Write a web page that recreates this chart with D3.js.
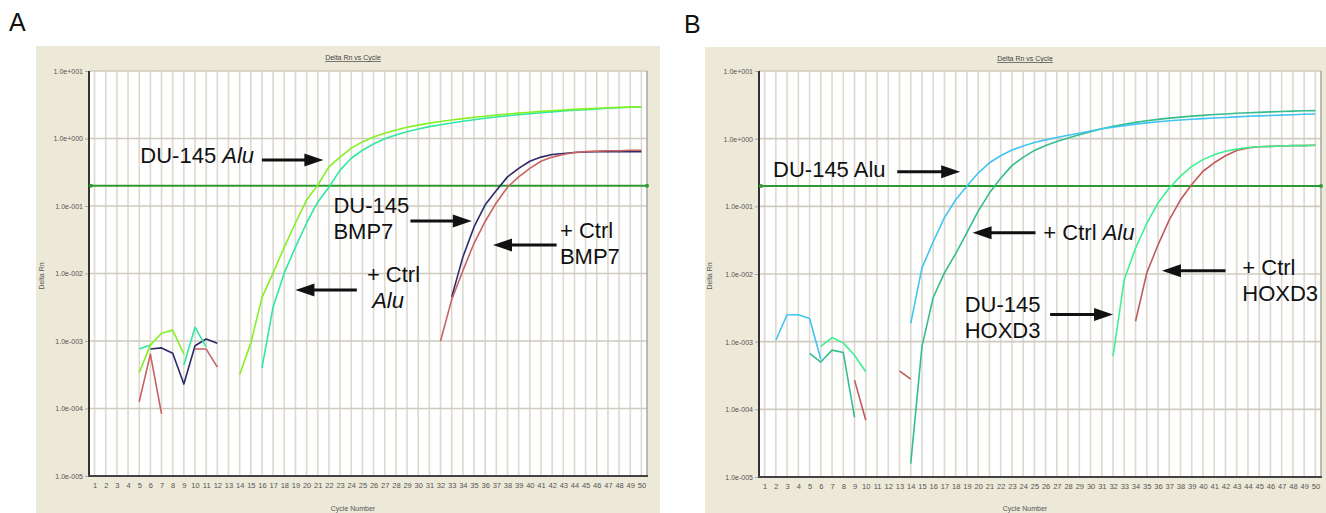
<!DOCTYPE html>
<html>
<head>
<meta charset="utf-8">
<script src="https://cdn.jsdelivr.net/npm/d3@7"></script>
<style>
  body { margin: 0; background: #fff; }
  svg { display: block; font-family: "Liberation Sans", Arial, sans-serif; }
</style>
</head>
<body>
<svg id="chart" width="1326" height="513"></svg>
<script>
// ---- data ----
var cycles = d3.range(1, 51);
var decades = [1e1, 1e0, 1e-1, 1e-2, 1e-3, 1e-4, 1e-5];
var decadeLabels = ["1.0e+001", "1.0e+000", "1.0e-001", "1.0e-002", "1.0e-003", "1.0e-004", "1.0e-005"];
var threshold = 0.2;

var _ = null;
// panel A
var aDuAlu = [_,_,_,_,3.4e-4,8.7e-4,1.3e-3,1.45e-3,6.4e-4,_,
  _,_,_,3.2e-4,9.3e-4,4.4e-3,0.0102,0.0246,0.056,0.123,
  0.205,0.38,0.53,0.72,0.89,1.05,1.2,1.34,1.47,1.58,
  1.69,1.79,1.88,1.97,2.06,2.14,2.22,2.3,2.38,2.45,
  2.52,2.58,2.64,2.7,2.75,2.8,2.85,2.89,2.92,2.95];
var aCtrlAlu = [_,_,_,_,7.6e-4,8.7e-4,_,_,4.4e-4,1.6e-3,
  8.1e-4,_,_,_,_,4.0e-4,3.2e-3,0.0102,0.0246,0.056,
  0.115,0.19,0.34,0.51,0.67,0.83,0.99,1.13,1.26,1.38,
  1.5,1.6,1.7,1.8,1.9,1.99,2.08,2.17,2.25,2.33,
  2.41,2.48,2.55,2.62,2.68,2.74,2.8,2.85,2.9,2.93];
var aDuBmp7 = [_,_,_,_,_,7.6e-4,7.9e-4,6.6e-4,2.3e-4,8.5e-4,
  1.07e-3,9.3e-4,_,_,_,_,_,_,_,_,
  _,_,_,_,_,_,_,_,_,_,
  _,_,4.5e-3,0.0175,0.049,0.104,0.17,0.27,0.36,0.46,
  0.53,0.58,0.6,0.62,0.63,0.635,0.64,0.64,0.64,0.64];
var aCtrlBmp7 = [_,_,_,_,1.26e-4,6.4e-4,8.3e-5,_,_,7.6e-4,
  7.6e-4,4.1e-4,_,_,_,_,_,_,_,_,
  _,_,_,_,_,_,_,_,_,_,
  _,1.0e-3,4.1e-3,0.011,0.028,0.059,0.112,0.19,0.27,0.36,
  0.46,0.53,0.58,0.62,0.64,0.65,0.66,0.66,0.67,0.67];
// panel B
var bDuAlu = [_,1.05e-3,2.5e-3,2.5e-3,2.2e-3,5.5e-4,_,_,_,_,
  _,_,_,1.86e-3,0.0123,0.030,0.068,0.125,0.2,0.31,
  0.44,0.56,0.68,0.78,0.88,0.96,1.04,1.12,1.2,1.3,
  1.4,1.48,1.56,1.64,1.71,1.78,1.84,1.89,1.94,1.98,
  2.02,2.06,2.1,2.14,2.17,2.2,2.23,2.26,2.29,2.32];
var bCtrlAlu = [_,_,_,_,6.7e-4,5.0e-4,7.5e-4,6.9e-4,7.6e-5,_,
  _,_,_,1.58e-5,8.5e-4,4.5e-3,0.0104,0.020,0.041,0.085,
  0.157,0.26,0.40,0.53,0.67,0.79,0.91,1.02,1.14,1.27,
  1.4,1.52,1.63,1.74,1.84,1.93,2.01,2.08,2.15,2.21,
  2.27,2.32,2.37,2.41,2.45,2.49,2.52,2.55,2.58,2.6];
var bDuHoxd3 = [_,_,_,_,_,8.5e-4,1.15e-3,9.6e-4,6.3e-4,3.6e-4,
  _,_,_,_,_,_,_,_,_,_,
  _,_,_,_,_,_,_,_,_,_,
  _,6.1e-4,8.3e-3,0.024,0.056,0.112,0.187,0.28,0.39,0.49,
  0.58,0.65,0.70,0.74,0.76,0.77,0.78,0.79,0.79,0.8];
var bCtrlHoxd3 = [_,_,_,_,_,_,_,_,2.7e-4,6.9e-5,
  _,_,3.7e-4,2.8e-4,_,_,_,_,_,_,
  _,_,_,_,_,_,_,_,_,_,
  _,_,_,2.0e-3,0.0104,0.027,0.063,0.125,0.21,0.33,
  0.44,0.56,0.67,0.73,0.76,0.77,0.78,0.79,0.79,0.8];

// annotations, placed in data space (cycle, Delta Rn)
var aNotes = [
  { lines: [["DU-145 ", false], ["Alu", true]], c: 5.1, v: 0.434 },
  { lines: [["DU-145", false]], line2: [["BMP7", false]], c: 22.4, v: 0.0787 },
  { lines: [["+ Ctrl", false]], line2: [["BMP7", false]], c: 42.7, v: 0.0336 },
  { lines: [["+ Ctrl", false]], line2: [[" Alu", true]], c: 25.4, v: 0.00748 }
];
var aArrows = [
  { c0: 16.0, c1: 21.5, v: 0.48 },
  { c0: 29.3, c1: 34.8, v: 0.06 },
  { c0: 42.4, c1: 36.7, v: 0.0264 },
  { c0: 24.5, c1: 19.0, v: 0.0057 }
];
var bNotes = [
  { lines: [["DU-145 Alu", false]], c: 1.75, v: 0.273 },
  { lines: [["+ Ctrl ", false], ["Alu", true]], c: 25.8, v: 0.0322 },
  { lines: [["DU-145", false]], line2: [["HOXD3", false]], c: 18.8, v: 0.00279 },
  { lines: [["+ Ctrl", false]], line2: [["HOXD3", false]], c: 43.5, v: 0.0098 }
];
var bArrows = [
  { c0: 12.8, c1: 18.4, v: 0.324 },
  { c0: 25.1, c1: 19.5, v: 0.0408 },
  { c0: 26.4, c1: 32.0, v: 0.00252 },
  { c0: 42.0, c1: 36.35, v: 0.0112 }
];

var svg = d3.select('#chart');

function drawPanel(p) {
  var g = svg.append('g');

  // beige frame
  g.append('rect').attr('x', p.bx).attr('y', p.by).attr('width', p.bw).attr('height', p.bh)
    .attr('fill', '#ece9d8');
  g.append('rect').attr('x', p.left).attr('y', p.top)
    .attr('width', p.right - p.left).attr('height', p.bottom - p.top).attr('fill', '#fff');

  var x = d3.scaleLinear().domain([0.5, 50.5]).range([p.left, p.right]);
  var y = d3.scaleLog().domain([1e-5, 1e1]).range([p.bottom, p.top]);

  // grid
  g.append('g').selectAll('line').data(cycles).enter().append('line')
    .attr('x1', function(d) { return x(d); }).attr('x2', function(d) { return x(d); })
    .attr('y1', p.top).attr('y2', p.bottom)
    .attr('stroke', '#dcd9cf').attr('stroke-width', 1.6);
  g.append('g').selectAll('line').data(decades).enter().append('line')
    .attr('x1', p.left).attr('x2', p.right)
    .attr('y1', function(d) { return y(d); }).attr('y2', function(d) { return y(d); })
    .attr('stroke', '#cfcbbf').attr('stroke-width', 1.6);

  // right border
  g.append('line').attr('x1', p.right).attr('x2', p.right).attr('y1', p.top).attr('y2', p.bottom)
    .attr('stroke', '#a8a6a0').attr('stroke-width', 1.5);

  // axes
  var yAxis = d3.axisLeft(y).tickValues(decades).tickSize(4)
    .tickFormat(function(d, i) { return decadeLabels[i]; });
  var ya = g.append('g').attr('transform', 'translate(' + p.left + ',0)').call(yAxis);
  ya.select('.domain').remove();
  ya.selectAll('line').attr('stroke', '#aaa');
  ya.selectAll('text').attr('font-size', 7).attr('fill', '#555').attr('x', -6).attr('dy', '0.35em');

  var xAxis = d3.axisBottom(x).tickValues(cycles).tickSize(0).tickFormat(d3.format('d'));
  var xa = g.append('g').attr('transform', 'translate(0,' + p.bottom + ')').call(xAxis);
  xa.select('.domain').remove();
  xa.selectAll('text').attr('font-size', 7.5).attr('fill', '#555').attr('dy', 9);

  g.append('line').attr('x1', p.left).attr('x2', p.left).attr('y1', p.top).attr('y2', p.bottom + 1)
    .attr('stroke', '#333').attr('stroke-width', 2);
  g.append('line').attr('x1', p.left - 1).attr('x2', p.right + 1).attr('y1', p.bottom).attr('y2', p.bottom)
    .attr('stroke', '#444').attr('stroke-width', 2);

  // axis titles
  g.append('text').attr('x', p.titleX).attr('y', p.by + 14).attr('text-anchor', 'middle')
    .attr('font-size', 7).attr('fill', '#444').attr('text-decoration', 'underline')
    .text('Delta Rn vs Cycle');
  g.append('text').attr('x', p.titleX).attr('y', 511).attr('text-anchor', 'middle')
    .attr('font-size', 7).attr('fill', '#555').text('Cycle Number');
  g.append('text').attr('transform', 'translate(' + p.ylabX + ',276) rotate(-90)')
    .attr('text-anchor', 'middle').attr('font-size', 7).attr('fill', '#555').text('Delta Rn');

  // threshold
  g.append('line').attr('x1', p.left).attr('x2', p.right)
    .attr('y1', y(threshold)).attr('y2', y(threshold))
    .attr('stroke', '#2f9a2f').attr('stroke-width', 2);
  g.selectAll('.thr').data([p.left + 2, p.right]).enter().append('circle')
    .attr('cx', function(d) { return d; }).attr('cy', y(threshold)).attr('r', 2)
    .attr('fill', '#2f9a2f');

  // amplification curves
  var line = d3.line()
    .defined(function(d) { return d != null; })
    .x(function(d, i) { return x(cycles[i]); })
    .y(function(d) { return y(d); });
  p.series.forEach(function(s) {
    g.append('path').datum(s.values).attr('d', line)
      .attr('fill', 'none').attr('stroke', s.color).attr('stroke-width', 1.6)
      .attr('stroke-linejoin', 'round');
  });

  // text annotations
  p.notes.forEach(function(n) {
    var t = g.append('text').attr('x', x(n.c)).attr('y', y(n.v))
      .attr('font-size', 22).attr('fill', '#111');
    n.lines.forEach(function(part) {
      t.append('tspan').attr('font-style', part[1] ? 'italic' : 'normal').text(part[0]);
    });
    if (n.line2) {
      var t2 = g.append('text').attr('x', x(n.c)).attr('y', y(n.v) + 26)
        .attr('font-size', 22).attr('fill', '#111');
      n.line2.forEach(function(part) {
        t2.append('tspan').attr('font-style', part[1] ? 'italic' : 'normal')
          .attr('xml:space', 'preserve').text(part[0]);
      });
    }
  });

  // arrows
  p.arrows.forEach(function(a) {
    var x0 = x(a.c0), x1 = x(a.c1), yy = y(a.v);
    var dir = x1 > x0 ? 1 : -1, head = 19;
    g.append('line').attr('x1', x0).attr('x2', x1 - dir * head + dir * 2)
      .attr('y1', yy).attr('y2', yy).attr('stroke', '#111').attr('stroke-width', 3);
    g.append('path')
      .attr('d', 'M' + x1 + ',' + yy + 'L' + (x1 - dir * head) + ',' + (yy - 6.5) +
        'L' + (x1 - dir * head) + ',' + (yy + 6.5) + 'Z')
      .attr('fill', '#111');
  });

  svg.append('text').attr('x', p.letterX).attr('y', p.letterY)
    .attr('font-size', 25).attr('fill', '#111').text(p.letter);
}

drawPanel({
  letter: 'A', letterX: 9, letterY: 31,
  bx: 36, by: 46, bw: 624, bh: 467,
  left: 89, top: 71, right: 647, bottom: 476,
  titleX: 353, ylabX: 44,
  series: [
    { values: aDuBmp7, color: '#2b2b6b' },
    { values: aCtrlBmp7, color: '#c96262' },
    { values: aCtrlAlu, color: '#2ee8a4' },
    { values: aDuAlu, color: '#84f026' }
  ],
  notes: aNotes, arrows: aArrows
});

drawPanel({
  letter: 'B', letterX: 684, letterY: 33,
  bx: 705, by: 47, bw: 621, bh: 466,
  left: 759, top: 71, right: 1321, bottom: 477,
  titleX: 1025, ylabX: 712,
  series: [
    { values: bCtrlHoxd3, color: '#c25a5a' },
    { values: bDuHoxd3, color: '#3ff092' },
    { values: bCtrlAlu, color: '#36bd8c' },
    { values: bDuAlu, color: '#42c4f2' }
  ],
  notes: bNotes, arrows: bArrows
});
</script>
</body>
</html>
